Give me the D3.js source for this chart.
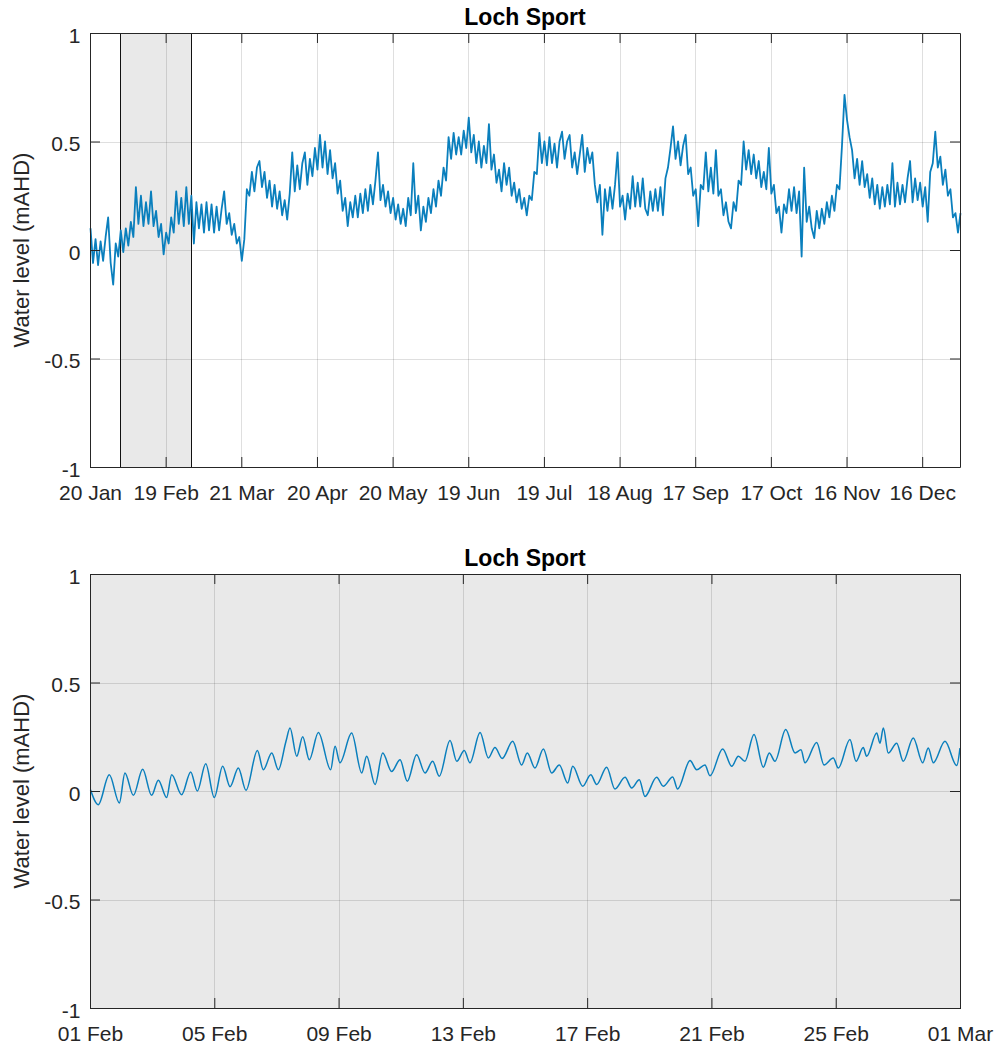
<!DOCTYPE html>
<html>
<head>
<meta charset="utf-8">
<script src="https://cdn.jsdelivr.net/npm/d3@7"></script>
<style>
  body { margin: 0; background: #fff; }
  svg text { font-family: "Liberation Sans", Arial, Helvetica, sans-serif; fill: #262626; }
  .plot-title { font-weight: bold; fill: #000; }
</style>
</head>
<body>
<svg id="chart"></svg>
<script>
// Values

const siteName = 'Loch Sport';
const levelLabel = 'Water level (mAHD)';
const levelTicks = [-1, -0.5, 0, 0.5, 1];

// Top panel: one reading a day from 20 Jan, alternating crest / trough of the tidal band
const topStart = '2019-01-20';
const topEnd = '2019-12-31';
const topLevels = [
  0.10, -0.06, 0.05, -0.07, 0.04, -0.05, 0.06, 0.15, -0.06, -0.16,
  0.03, -0.03, 0.09, -0.01, 0.10, 0.02, 0.13, 0.06, 0.29, 0.12,
  0.25, 0.11, 0.22, 0.12, 0.27, 0.11, 0.18, 0.06, 0.12, -0.02,
  0.08, 0.03, 0.15, 0.08, 0.27, 0.12, 0.24, 0.11, 0.29, 0.12,
  0.25, 0.03, 0.22, 0.10, 0.21, 0.08, 0.22, 0.09, 0.21, 0.08,
  0.20, 0.09, 0.19, 0.27, 0.12, 0.17, 0.07, 0.12, 0.03, 0.06,
  -0.05, 0.05, 0.28, 0.25, 0.36, 0.27, 0.38, 0.41, 0.29, 0.36,
  0.24, 0.32, 0.20, 0.30, 0.19, 0.27, 0.16, 0.23, 0.14, 0.26,
  0.45, 0.27, 0.39, 0.28, 0.40, 0.45, 0.30, 0.42, 0.34, 0.47,
  0.37, 0.53, 0.38, 0.50, 0.35, 0.46, 0.33, 0.40, 0.26, 0.32,
  0.18, 0.24, 0.11, 0.22, 0.15, 0.25, 0.15, 0.26, 0.17, 0.28,
  0.18, 0.30, 0.21, 0.32, 0.45, 0.23, 0.30, 0.20, 0.27, 0.17,
  0.24, 0.14, 0.21, 0.12, 0.19, 0.11, 0.24, 0.16, 0.40, 0.17,
  0.25, 0.09, 0.20, 0.13, 0.24, 0.17, 0.28, 0.20, 0.32, 0.25,
  0.38, 0.32, 0.52, 0.42, 0.54, 0.44, 0.52, 0.44, 0.55, 0.47,
  0.61, 0.45, 0.53, 0.40, 0.50, 0.38, 0.48, 0.40, 0.58, 0.37,
  0.44, 0.31, 0.37, 0.27, 0.40, 0.30, 0.38, 0.25, 0.31, 0.22,
  0.28, 0.19, 0.24, 0.16, 0.25, 0.23, 0.36, 0.35, 0.54, 0.40,
  0.50, 0.39, 0.52, 0.40, 0.49, 0.38, 0.50, 0.545, 0.42, 0.50,
  0.53, 0.38, 0.45, 0.35, 0.44, 0.53, 0.36, 0.47, 0.40, 0.45,
  0.30, 0.22, 0.30, 0.07, 0.28, 0.18, 0.29, 0.19, 0.30, 0.45,
  0.20, 0.25, 0.14, 0.26, 0.19, 0.34, 0.20, 0.31, 0.20, 0.33,
  0.19, 0.16, 0.27, 0.18, 0.28, 0.18, 0.29, 0.16, 0.33, 0.38,
  0.47, 0.57, 0.42, 0.50, 0.39, 0.48, 0.53, 0.35, 0.38, 0.25,
  0.28, 0.11, 0.30, 0.28, 0.45, 0.27, 0.38, 0.26, 0.46, 0.25,
  0.28, 0.16, 0.22, 0.13, 0.10, 0.22, 0.18, 0.32, 0.30, 0.50,
  0.37, 0.46, 0.35, 0.44, 0.33, 0.41, 0.29, 0.36, 0.28, 0.47,
  0.26, 0.30, 0.17, 0.20, 0.08, 0.21, 0.17, 0.28, 0.18, 0.29,
  0.17, 0.27, -0.03, 0.38, 0.13, 0.20, 0.10, 0.055, 0.18, 0.10,
  0.19, 0.12, 0.22, 0.15, 0.25, 0.18, 0.30, 0.28, 0.48, 0.715,
  0.60, 0.52, 0.46, 0.33, 0.42, 0.30, 0.41, 0.29, 0.35, 0.24,
  0.33, 0.21, 0.30, 0.19, 0.29, 0.20, 0.30, 0.21, 0.40, 0.20,
  0.31, 0.21, 0.30, 0.22, 0.33, 0.41, 0.22, 0.33, 0.23, 0.31,
  0.20, 0.29, 0.13, 0.36, 0.40, 0.545, 0.38, 0.43, 0.30, 0.37,
  0.25, 0.28, 0.15, 0.17, 0.08, 0.17
];
const topTicks = ['2019-01-20', '2019-02-19', '2019-03-21', '2019-04-20', '2019-05-20', '2019-06-19',
  '2019-07-19', '2019-08-18', '2019-09-17', '2019-10-17', '2019-11-16', '2019-12-16'];

// Window shown in the lower panel
const windowStart = '2019-02-01';
const windowEnd = '2019-03-01';

// Bottom panel: tide crests and troughs, hours after 01 Feb 00:00
const bottomHours = [
  0, 6.0, 14.5, 22.3, 26.6, 33.1, 40.3, 47.2, 52.4, 58.8,
  62.7, 70.4, 77.4, 82.5, 89.0, 95.6, 102.1, 107.8, 114.2, 120.1,
  128.9, 133.5, 140.0, 145.1, 151.0, 154.1, 159.3, 163.9, 169.0, 176.0,
  185.5, 188.9, 192.7, 201.7, 209.5, 213.3, 219.8, 225.7, 232.6, 239.1,
  244.7, 251.9, 258.4, 264.3, 269.4, 277.7, 282.9, 288.7, 293.1, 300.9,
  307.3, 312.4, 318.0, 326.1, 333.0, 337.4, 343.3, 349.8, 356.2, 362.1,
  368.6, 372.5, 380.2, 386.4, 391.0, 398.7, 405.1, 412.9, 418.0, 423.9,
  428.3, 437.3, 442.4, 449.7, 453.5, 463.1, 468.2, 474.6, 478.5, 488.3,
  495.3, 500.4, 505.5, 512.5, 519.7, 524.3, 528.7, 537.0, 544.2, 548.8,
  551.9, 560.9, 566.6, 573.7, 577.6, 586.6, 591.3, 596.9, 599.5, 607.3,
  609.8, 612.4, 616.2, 622.7, 627.8, 635.5, 642.8, 647.1, 651.0, 660.0,
  669.1, 671.6
];
const bottomLevels = [
  0.006, -0.063, 0.075, -0.055, 0.083, -0.02, 0.10, -0.02, 0.05, -0.03,
  0.075, -0.017, 0.088, 0.0, 0.126, -0.03, 0.114, 0.02, 0.106, 0.003,
  0.187, 0.098, 0.175, 0.098, 0.229, 0.29, 0.16, 0.25, 0.144, 0.27,
  0.098, 0.206, 0.13, 0.267, 0.083, 0.16, 0.03, 0.175, 0.09, 0.144,
  0.045, 0.167, 0.083, 0.137, 0.068, 0.233, 0.137, 0.187, 0.13, 0.27,
  0.152, 0.20, 0.15, 0.229, 0.12, 0.175, 0.106, 0.194, 0.083, 0.12,
  0.037, 0.114, 0.022, 0.075, 0.03, 0.11, 0.009, 0.063, 0.014, 0.052,
  -0.025, 0.063, 0.022, 0.065, 0.009, 0.14, 0.098, 0.12, 0.07, 0.194,
  0.114, 0.16, 0.137, 0.26, 0.11, 0.175, 0.137, 0.283, 0.175, 0.19,
  0.13, 0.224, 0.12, 0.152, 0.106, 0.237, 0.137, 0.20, 0.16, 0.267,
  0.22, 0.29, 0.175, 0.22, 0.137, 0.244, 0.13, 0.198, 0.13, 0.229,
  0.117, 0.198
];
const bottomTicks = ['2019-02-01', '2019-02-05', '2019-02-09', '2019-02-13', '2019-02-17',
  '2019-02-21', '2019-02-25', '2019-03-01'];

const parseDate = d3.utcParse('%Y-%m-%d');

class LevelPlot {

    /**
     * One axes panel: shaded window, grid, level trace and box axes
     */
    constructor(_config, _data) {
      this.config = {
        parentElement: _config.parentElement,
        top: _config.top,
        margin: _config.margin || {left: 90, right: 40},
        height: _config.height || 434,
        xDomain: _config.xDomain,
        xTicks: _config.xTicks,
        shade: _config.shade,
        curve: _config.curve || d3.curveLinear,
        lineWidth: _config.lineWidth || 1.2
      }
      this.data = _data;
      this.initVis();
    }

    initVis() {
      let vis = this;

      vis.width = 1000 - vis.config.margin.left - vis.config.margin.right;
      vis.height = vis.config.height;

      vis.xScale = d3.scaleUtc()
          .domain(vis.config.xDomain)
          .range([0, vis.width]);

      vis.yScale = d3.scaleLinear()
          .domain([-1, 1])
          .range([vis.height, 0]);

      vis.chart = d3.select(vis.config.parentElement).append('g')
          .attr('transform', `translate(${vis.config.margin.left},${vis.config.top})`);

      // Grey window patch
      if (vis.config.shade) {
        const x0 = vis.xScale(vis.config.shade[0]);
        const x1 = vis.xScale(vis.config.shade[1]);
        vis.chart.append('rect')
            .attr('x', Math.round(x0) + 0.5)
            .attr('y', 0.5)
            .attr('width', Math.round(x1) - Math.round(x0))
            .attr('height', vis.height)
            .attr('fill', '#e9e9e9')
            .attr('stroke', '#111')
            .attr('stroke-width', 1);
      }

      // Gridlines
      vis.chart.append('g')
          .attr('class', 'grid')
        .selectAll('line')
          .data(vis.config.xTicks)
        .join('line')
          .attr('x1', d => Math.round(vis.xScale(d)) + 0.5)
          .attr('x2', d => Math.round(vis.xScale(d)) + 0.5)
          .attr('y1', 0)
          .attr('y2', vis.height)
          .attr('stroke', '#262626')
          .attr('stroke-opacity', 0.15);

      vis.chart.append('g')
          .attr('class', 'grid')
        .selectAll('line')
          .data(levelTicks)
        .join('line')
          .attr('x1', 0)
          .attr('x2', vis.width)
          .attr('y1', d => Math.round(vis.yScale(d)) + 0.5)
          .attr('y2', d => Math.round(vis.yScale(d)) + 0.5)
          .attr('stroke', '#262626')
          .attr('stroke-opacity', 0.15);

      vis.renderVis();
    }

    renderVis() {
      let vis = this;

      const line = d3.line()
          .x(d => vis.xScale(d.date) + 0.5)
          .y(d => vis.yScale(d.level))
          .curve(vis.config.curve);

      vis.chart.append('path')
          .datum(vis.data)
          .attr('fill', 'none')
          .attr('stroke', '#0a7fbd')
          .attr('stroke-width', vis.config.lineWidth)
          .attr('stroke-linejoin', 'round')
          .attr('d', line);

      // Box axes with inward ticks on all four sides
      const fmt = d3.utcFormat('%d %b');
      vis.chart.append('g')
          .attr('class', 'axis x-axis')
          .attr('transform', `translate(0,${vis.height})`)
          .call(d3.axisBottom(vis.xScale).tickValues(vis.config.xTicks).tickFormat(fmt)
            .tickSize(-10).tickSizeOuter(0).tickPadding(18.3));
      vis.chart.append('g')
          .call(d3.axisTop(vis.xScale).tickValues(vis.config.xTicks).tickFormat('')
            .tickSize(-10).tickSizeOuter(0));
      vis.chart.append('g')
          .attr('class', 'axis y-axis')
          .call(d3.axisLeft(vis.yScale).tickValues(levelTicks).tickFormat(d => String(d))
            .tickSize(-10).tickSizeOuter(0).tickPadding(9.5));
      vis.chart.append('g')
          .attr('transform', `translate(${vis.width},0)`)
          .call(d3.axisRight(vis.yScale).tickValues(levelTicks).tickFormat('')
            .tickSize(-10).tickSizeOuter(0));

      vis.chart.selectAll('.domain, .tick line')
          .attr('stroke', '#262626');
      vis.chart.selectAll('.tick text')
          .attr('fill', '#262626')
          .style('font-size', '21px')
          .style('font-family', '"Liberation Sans", Arial, sans-serif');
      vis.chart.selectAll('.y-axis .tick text')
          .attr('dy', '0.45em');

      // Title and axis label
      vis.chart.append('text')
          .attr('class', 'plot-title')
          .attr('x', vis.width / 2)
          .attr('y', -8)
          .attr('text-anchor', 'middle')
          .style('font-size', '23px')
          .text(siteName);

      vis.chart.append('text')
          .attr('transform', `translate(${28.5 - vis.config.margin.left},${vis.height / 2}) rotate(-90)`)
          .attr('text-anchor', 'middle')
          .style('font-size', '22px')
          .text(levelLabel);
    }
}

const svg = d3.select('#chart')
    .attr('width', 1000)
    .attr('height', 1047);

const t0 = parseDate(topStart);
const topData = topLevels.map((v, i) => ({date: d3.utcDay.offset(t0, i), level: v}));

const b0 = parseDate(windowStart);
const bottomData = bottomHours.map((h, i) => ({date: new Date(b0.getTime() + h * 3600e3), level: bottomLevels[i]}));

new LevelPlot({
  parentElement: '#chart',
  top: 33,
  xDomain: [t0, parseDate(topEnd)],
  xTicks: topTicks.map(parseDate),
  shade: [parseDate(windowStart), parseDate(windowEnd)],
  lineWidth: 1.8
}, topData);

new LevelPlot({
  parentElement: '#chart',
  top: 574,
  xDomain: [parseDate(windowStart), parseDate(windowEnd)],
  xTicks: bottomTicks.map(parseDate),
  shade: [parseDate(windowStart), parseDate(windowEnd)],
  curve: d3.curveMonotoneX,
  lineWidth: 1.5
}, bottomData);
</script>
</body>
</html>
